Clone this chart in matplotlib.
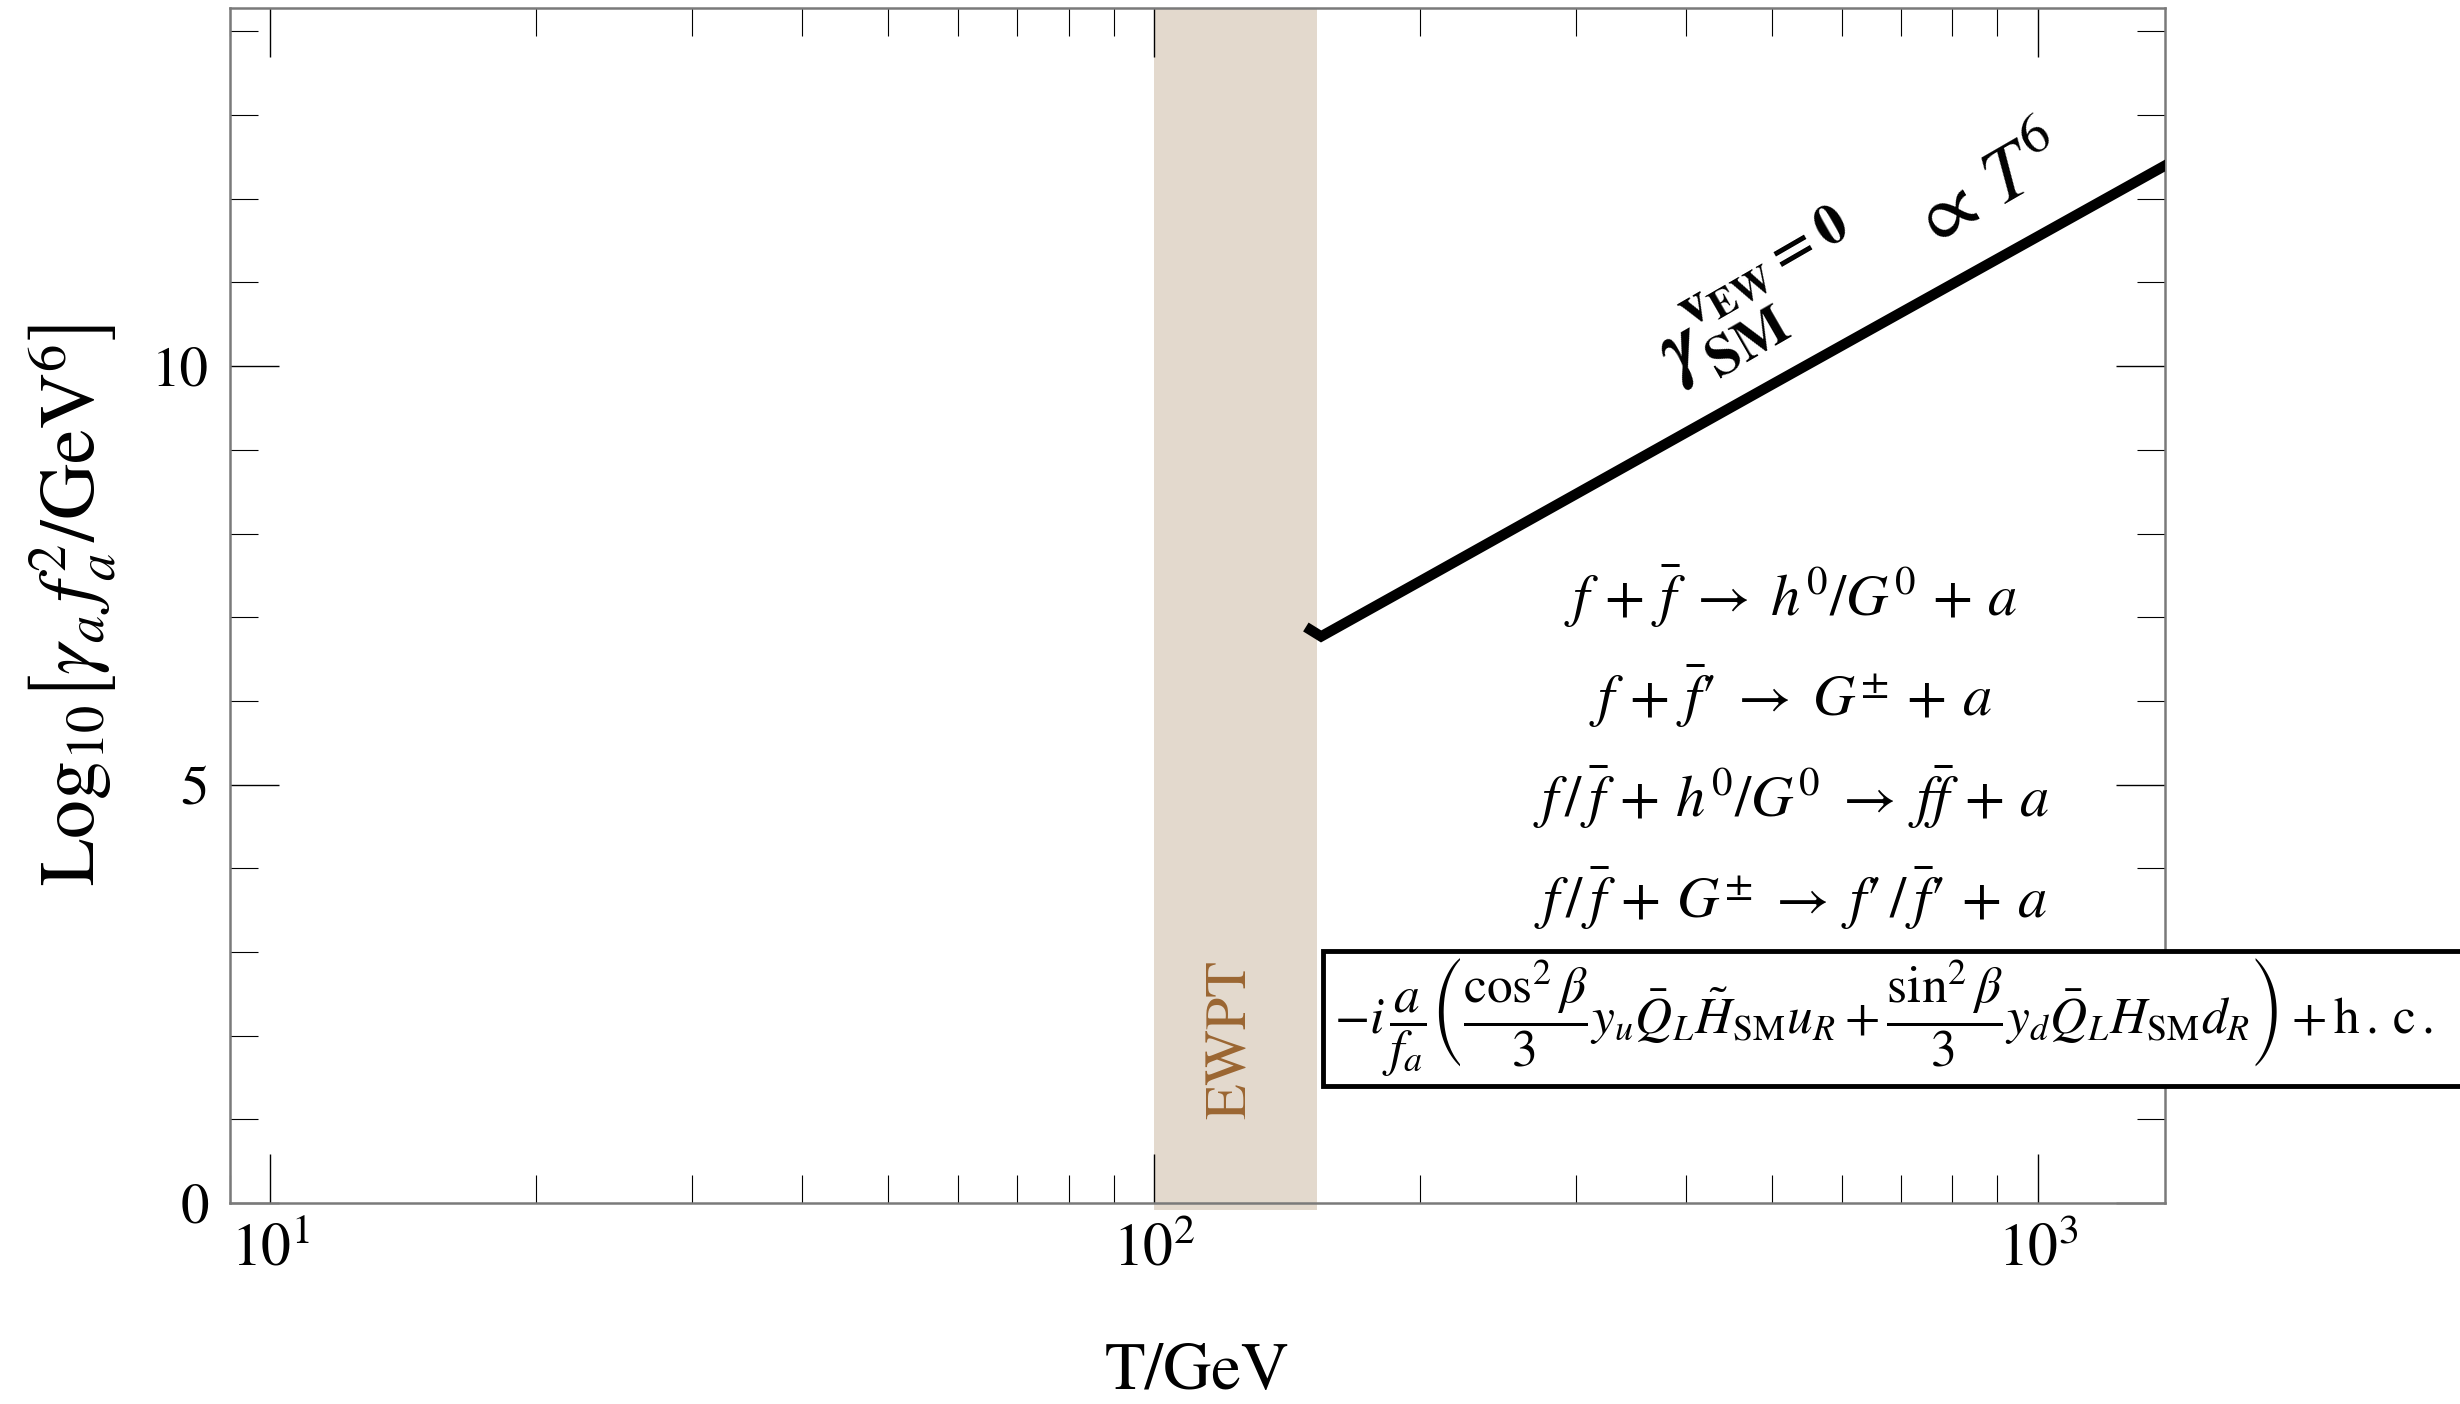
import matplotlib
matplotlib.use("Agg")
import matplotlib.pyplot as plt
from matplotlib.patches import Rectangle
from matplotlib.ticker import FixedLocator, LogLocator, NullFormatter
import numpy as np

plt.rcParams['font.family'] = ['STIXGeneral', 'DejaVu Serif']
plt.rcParams['mathtext.fontset'] = 'stix'

# axion production rate in the unbroken phase, log10[gamma_a f_a^2 / GeV^6]
temp_gev = [150.2, 154.5, 200, 300, 500, 700, 1000, 1400]
log_rate = [6.85, 6.77, 7.43, 8.47, 9.78, 10.64, 11.55, 12.41]

# electroweak phase transition band
ewpt_range = (100, 153)

reactions = [
    r'$f\,+\,\bar{f}\;\rightarrow\;h^0/G^0\,+\,a$',
    '$f\\,+\\,\\bar{f}\u2032\\;\\rightarrow\\;G^{\\pm}\\,+\\,a$',
    r'$f\,/\,\bar{f}\,+\,h^0/G^0\;\rightarrow\;f\bar{f}\,+\,a$',
    '$f\\,/\\,\\bar{f}\\,+\\,G^{\\pm}\\;\\rightarrow\\;f\u2032\\,/\\,\\bar{f}\u2032\\,+\\,a$',
]
operator = (r'$-i\,\dfrac{a}{f_a}\left(\dfrac{\cos^2\beta}{3}y_u\bar{Q}_L\tilde{H}_{\mathrm{SM}}u_R'
            r'+\dfrac{\sin^2\beta}{3}y_d\bar{Q}_L H_{\mathrm{SM}}d_R\right)+\mathrm{h\,.\,c\,.}$')

fig = plt.figure(figsize=(24.6, 14.04), dpi=100)
ax = fig.add_axes([0.0935, 0.1432, 0.7865, 0.8511])

ax.axvspan(*ewpt_range, ymin=-0.006, ymax=1.0, color='#E3D9CD', lw=0, zorder=1, clip_on=False)
ax.plot(temp_gev, log_rate, color='black', lw=7.5, solid_joinstyle='miter', zorder=3)

ax.set_xscale('log')
ax.set_xlim(9.0, 1392)
ax.set_ylim(0, 14.28)

ax.yaxis.set_major_locator(FixedLocator([0, 5, 10]))
ax.yaxis.set_minor_locator(FixedLocator(np.arange(0, 15, 1)))
ax.xaxis.set_major_locator(LogLocator(base=10))
ax.xaxis.set_minor_locator(LogLocator(base=10, subs=np.arange(2, 10)))
ax.xaxis.set_minor_formatter(NullFormatter())

ax.tick_params(which='both', direction='in', top=True, right=True, colors='black')
ax.tick_params(which='major', length=35, width=1.0)
ax.tick_params(which='minor', length=20, width=0.8)
ax.tick_params(axis='y', which='major', labelsize=41, pad=15)
ax.tick_params(axis='x', which='major', labelsize=43, pad=14)
for s in ax.spines.values():
    s.set_color('#7a7a7a')
    s.set_linewidth(1.8)

ax.set_xlabel('T/GeV', fontsize=48)
ax.xaxis.set_label_coords(0.5, -0.117)
ax.set_ylabel(r'$\mathrm{Log}_{10}\left[\gamma_a\,f_a^2/\mathrm{GeV}^6\right]$', fontsize=56)
ax.yaxis.set_label_coords(-0.058, 0.5)

ax.text(122.5, 1.95, 'EWPT', rotation=90, color='#9B6632', fontsize=42,
        ha='center', va='center', zorder=4)

ax.text(0.7155, 0.786, r'$\boldsymbol{\gamma}_{\mathbf{SM}}^{\mathbf{v_{EW}=0}}$', transform=fig.transFigure,
        fontsize=59, rotation=30, rotation_mode='anchor', ha='center', va='center')
ax.text(0.8085, 0.862, r'$\propto\, T^6$', transform=fig.transFigure,
        fontsize=56, rotation=30, rotation_mode='anchor', ha='center', va='center')

for k, r in enumerate(reactions):
    fig.text(0.728, 0.5755 - 0.0718 * k, r, fontsize=42, ha='center', va='center')

fig.add_artist(Rectangle((0.5378, 0.2265), 0.5, 0.0961, transform=fig.transFigure,
                         facecolor='white', edgecolor='black', lw=3.5, zorder=5))
fig.text(0.5423, 0.2746, operator, fontsize=37, ha='left', va='center', zorder=6)

fig.savefig('out.png', dpi=100)
